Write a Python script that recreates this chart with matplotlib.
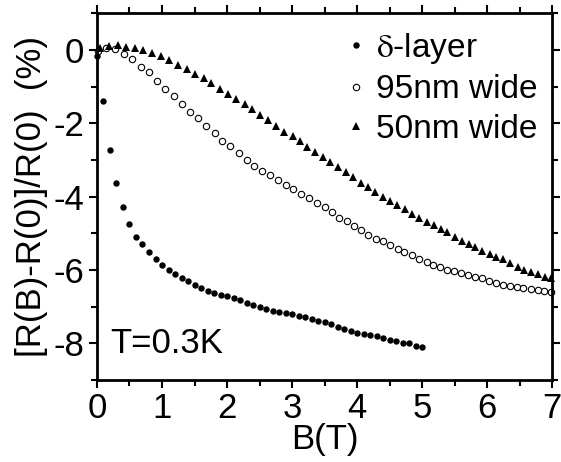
import matplotlib
matplotlib.use("Agg")
import matplotlib.pyplot as plt
from matplotlib.ticker import MultipleLocator

plt.rcParams['font.family'] = ['Liberation Sans', 'DejaVu Sans']
plt.rcParams['mathtext.fontset'] = 'stix'
plt.rcParams['axes.unicode_minus'] = False

# delta-layer (filled circles)
delta_B = [0.0, 0.1, 0.2, 0.3, 0.4, 0.5, 0.6, 0.7, 0.8, 0.9, 1.0, 1.1, 1.2, 1.3, 1.4,
           1.5, 1.6, 1.7, 1.8, 1.9, 2.0, 2.1, 2.2, 2.3, 2.4, 2.5, 2.6, 2.7, 2.8, 2.9,
           3.0, 3.1, 3.2, 3.3, 3.4, 3.5, 3.6, 3.7, 3.8, 3.9, 4.0, 4.1, 4.2, 4.3, 4.4,
           4.5, 4.6, 4.7, 4.8, 4.9, 5.0]
delta_R = [-0.15, -1.40, -2.73, -3.64, -4.28, -4.74, -5.10, -5.30, -5.51, -5.71, -5.87,
           -5.99, -6.12, -6.21, -6.30, -6.40, -6.49, -6.56, -6.62, -6.69, -6.72, -6.77,
           -6.82, -6.89, -6.95, -7.00, -7.06, -7.11, -7.15, -7.17, -7.20, -7.25, -7.29,
           -7.34, -7.38, -7.43, -7.47, -7.55, -7.60, -7.65, -7.71, -7.74, -7.77, -7.81,
           -7.86, -7.91, -7.94, -8.00, -7.98, -8.06, -8.09]

# 95nm wide (open circles)
w95_B = [0.02, 0.14, 0.28, 0.41, 0.54, 0.67, 0.80, 0.92, 1.05, 1.18, 1.31, 1.43, 1.56,
         1.68, 1.81, 1.93, 2.05, 2.18, 2.30, 2.42, 2.54, 2.66, 2.78, 2.90, 3.02, 3.14,
         3.26, 3.38, 3.50, 3.62, 3.73, 3.84, 3.95, 4.06, 4.17, 4.29, 4.40, 4.51, 4.63,
         4.73, 4.84, 4.95, 5.07, 5.17, 5.28, 5.39, 5.49, 5.60, 5.71, 5.82, 5.92, 6.03,
         6.14, 6.24, 6.35, 6.46, 6.56, 6.67, 6.78, 6.88, 6.98]
w95_R = [-0.03, 0.05, 0.02, -0.10, -0.24, -0.45, -0.61, -0.84, -1.06, -1.26, -1.48, -1.68,
         -1.84, -2.06, -2.25, -2.47, -2.63, -2.81, -3.00, -3.15, -3.29, -3.41, -3.55,
         -3.68, -3.80, -3.92, -4.04, -4.16, -4.28, -4.41, -4.57, -4.67, -4.79, -4.90,
         -5.04, -5.15, -5.22, -5.32, -5.44, -5.52, -5.60, -5.69, -5.78, -5.86, -5.92,
         -5.99, -6.04, -6.07, -6.13, -6.19, -6.22, -6.31, -6.36, -6.40, -6.43, -6.46,
         -6.49, -6.52, -6.54, -6.58, -6.61]

# 50nm wide (filled triangles)
w50_B = [0.04, 0.18, 0.32, 0.45, 0.58, 0.71, 0.84, 0.98, 1.11, 1.25, 1.38, 1.51, 1.64,
         1.76, 1.89, 2.01, 2.14, 2.27, 2.39, 2.51, 2.63, 2.76, 2.88, 3.01, 3.12, 3.23,
         3.35, 3.47, 3.59, 3.71, 3.83, 3.94, 4.06, 4.17, 4.28, 4.40, 4.51, 4.62, 4.74,
         4.85, 4.96, 5.07, 5.18, 5.29, 5.39, 5.50, 5.61, 5.72, 5.82, 5.93, 6.04, 6.14,
         6.25, 6.36, 6.47, 6.57, 6.68, 6.78, 6.89, 6.98]
w50_R = [0.06, 0.12, 0.13, 0.09, 0.06, -0.01, -0.08, -0.17, -0.27, -0.40, -0.52, -0.64,
         -0.77, -0.90, -1.05, -1.19, -1.33, -1.48, -1.62, -1.77, -1.92, -2.06, -2.23,
         -2.35, -2.49, -2.65, -2.78, -2.93, -3.06, -3.19, -3.33, -3.47, -3.62, -3.73,
         -3.87, -4.01, -4.12, -4.23, -4.33, -4.46, -4.57, -4.69, -4.76, -4.88, -4.96,
         -5.10, -5.21, -5.29, -5.36, -5.47, -5.55, -5.64, -5.71, -5.80, -5.91, -5.99,
         -6.06, -6.12, -6.20, -6.21]

labels = [r'$\mathrm{\delta}$-layer', '95nm wide', '50nm wide']

fig = plt.figure(figsize=(5.61, 4.62), dpi=100)
ax = fig.add_axes([0.1729, 0.1775, 0.8111, 0.7935])

ax.plot(delta_B, delta_R, 'o', color='black', ms=4.6, mew=0, label=labels[0], clip_on=False)
ax.plot(w95_B, w95_R, 'o', mfc='white', mec='black', ms=4.6, mew=0.8, label=labels[1], clip_on=False)
ax.plot(w50_B, w50_R, '^', color='black', ms=5.2, mew=0, label=labels[2], clip_on=False)

ax.set_xlim(0, 7)
ax.set_ylim(-9, 1)
ax.xaxis.set_major_locator(MultipleLocator(1))
ax.xaxis.set_minor_locator(MultipleLocator(0.5))
ax.yaxis.set_major_locator(MultipleLocator(2))
ax.yaxis.set_minor_locator(MultipleLocator(1))
ax.tick_params(which='both', direction='out', top=True, right=True, width=1.5,
               labelsize=25, pad=3)
ax.tick_params(which='major', length=6)
ax.tick_params(which='minor', length=4)
for s in ax.spines.values():
    s.set_linewidth(2)

ax.set_xlabel('B(T)', fontsize=25, labelpad=-2)
ax.set_ylabel('[R(B)-R(0)]/R(0)  (%)', fontsize=25, labelpad=4)

ax.text(0.2, -8.25, 'T=0.3K', fontsize=25, va='baseline', ha='left')

leg = ax.legend(loc='upper right', bbox_to_anchor=(0.968, 0.952), frameon=False,
                fontsize=24, handlelength=0.6, handletextpad=0.3, labelspacing=0.25,
                borderpad=0, borderaxespad=0, numpoints=1)

fig.savefig('out.png', dpi=100)
